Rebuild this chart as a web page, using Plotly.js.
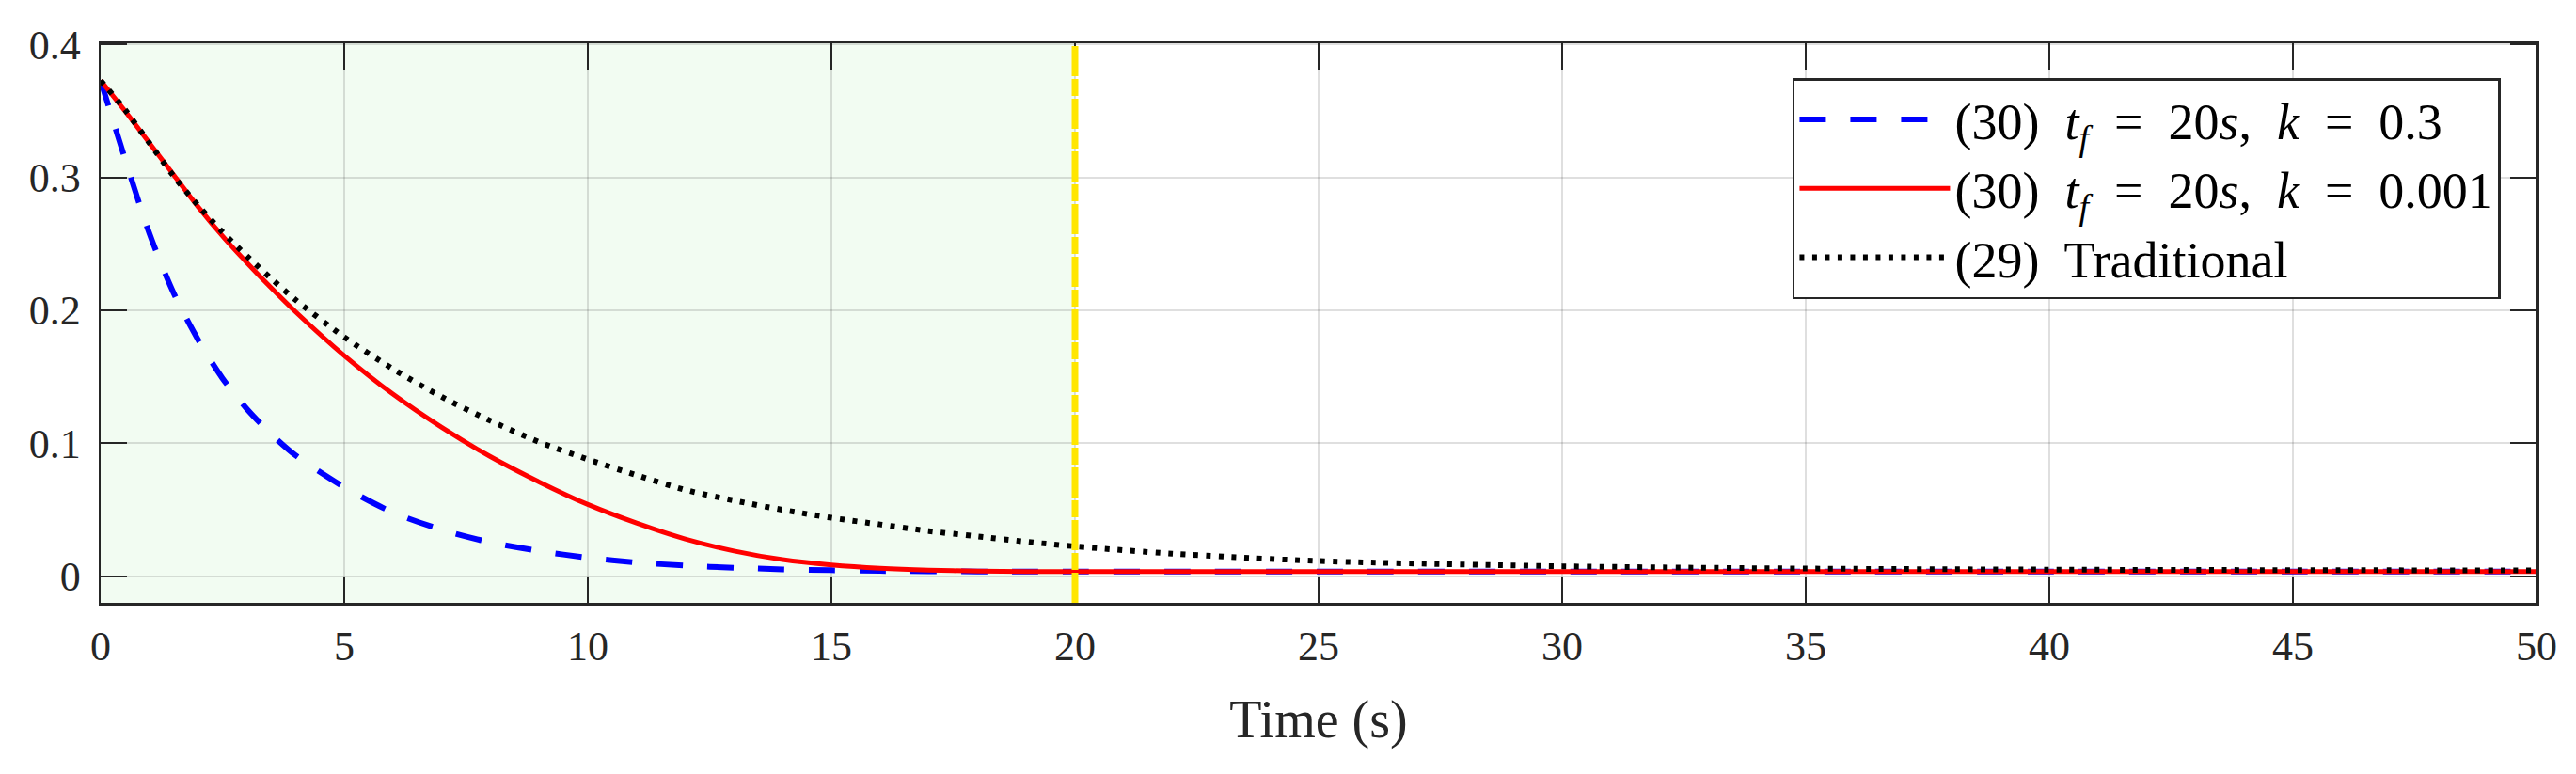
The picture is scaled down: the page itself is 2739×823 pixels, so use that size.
<!DOCTYPE html>
<html>
<head>
<meta charset="utf-8">
<script src="https://cdn.plot.ly/plotly-3.0.1.min.js"></script>
<style>
  html, body { margin: 0; padding: 0; background: white; }
  #chart { width: 2739px; height: 823px; }
</style>
</head>
<body>
<div id="chart"></div>
<script>
// time samples (s)
var timeS = [0, 0.5, 1, 1.5, 2, 2.5, 3, 3.5, 4, 5, 6, 7, 8, 9, 10, 11, 12, 13, 14, 15,
             16, 17, 18, 19, 20, 22, 25, 30, 35, 40, 45, 50];

// (30) tf = 20s, k = 0.3
var errK03 = [0.373, 0.314, 0.258, 0.213, 0.178, 0.149, 0.126, 0.107, 0.091, 0.067, 0.048, 0.035,
              0.0255, 0.019, 0.0140, 0.0104, 0.0080, 0.0064, 0.0052, 0.0045, 0.0040, 0.0037, 0.0036,
              0.0035, 0.0035, 0.0035, 0.0035, 0.0035, 0.0035, 0.0035, 0.0035, 0.0035];

// (30) tf = 20s, k = 0.001
var errK0001 = [0.373, 0.350, 0.326, 0.302, 0.278, 0.256, 0.236, 0.217, 0.199, 0.166, 0.137, 0.112,
                0.090, 0.071, 0.054, 0.040, 0.028, 0.019, 0.0125, 0.0085, 0.0060, 0.0046, 0.0039,
                0.0036, 0.0035, 0.0035, 0.0035, 0.0035, 0.0035, 0.0035, 0.0035, 0.0035];

// (29) traditional
var errTrad = [0.373, 0.351, 0.326, 0.301, 0.279, 0.259, 0.241, 0.224, 0.208, 0.180, 0.156, 0.135,
               0.117, 0.101, 0.088, 0.076, 0.065, 0.057, 0.050, 0.044, 0.039, 0.034, 0.030, 0.026,
               0.0225, 0.017, 0.0115, 0.0075, 0.0058, 0.0050, 0.0046, 0.0044];

var seriesNames = [
  '(30)&nbsp; <i>t<sub>f</sub></i>&nbsp; = &nbsp;20<i>s</i>,&nbsp; <i>k</i>&nbsp; = &nbsp;0.3',
  '(30)&nbsp; <i>t<sub>f</sub></i>&nbsp; = &nbsp;20<i>s</i>,&nbsp; <i>k</i>&nbsp; = &nbsp;0.001',
  '(29)&nbsp; Traditional'
];

var settleTime = 20;     // tf, end of the shaded region
var xTicks = [0, 5, 10, 15, 20, 25, 30, 35, 40, 45, 50];
var yTicks = [0, 0.1, 0.2, 0.3, 0.4];

var fontFam = '"Liberation Serif", "Times New Roman", serif';

var traceK03 = {
  x: timeS, y: errK03, mode: 'lines', name: seriesNames[0],
  line: {color: 'rgb(0,0,255)', width: 6, dash: '28px,26px', shape: 'spline', smoothing: 0.8}
};
var traceK0001 = {
  x: timeS, y: errK0001, mode: 'lines', name: seriesNames[1],
  line: {color: 'rgb(255,0,0)', width: 5, shape: 'spline', smoothing: 0.8}
};
var traceTrad = {
  x: timeS, y: errTrad, mode: 'lines', name: seriesNames[2],
  line: {color: 'black', width: 6, dash: '5px,8.5px', shape: 'spline', smoothing: 0.8}
};

var gridCol = 'rgba(38,38,38,0.15)';
var axisCol = '#262626';

var layout = {
  width: 2739,
  height: 823,
  margin: {l: 107, r: 42, t: 46, b: 182},
  paper_bgcolor: 'white',
  plot_bgcolor: 'white',
  font: {family: fontFam, color: axisCol},
  xaxis: {
    range: [0, 50],
    tickvals: xTicks,
    ticks: 'inside', ticklen: 28, tickwidth: 2, tickcolor: axisCol,
    showline: true, linecolor: axisCol, linewidth: 2.5, mirror: 'ticks',
    showgrid: true, gridcolor: gridCol, gridwidth: 2,
    zeroline: false,
    tickfont: {size: 44, family: fontFam, color: axisCol},
    ticklabelstandoff: 6,
    title: {text: 'Time (s)', font: {size: 56, family: fontFam, color: axisCol}, standoff: 34}
  },
  yaxis: {
    range: [-0.02, 0.401],
    tickvals: yTicks,
    ticks: 'inside', ticklen: 28, tickwidth: 2, tickcolor: axisCol,
    showline: true, linecolor: axisCol, linewidth: 2.5, mirror: 'ticks',
    showgrid: true, gridcolor: gridCol, gridwidth: 2,
    zeroline: false,
    tickfont: {size: 44, family: fontFam, color: axisCol},
    ticklabelstandoff: 10
  },
  legend: {
    x: 0.9853, xanchor: 'right',
    y: 0.9378, yanchor: 'top',
    bgcolor: 'white',
    bordercolor: axisCol,
    borderwidth: 2.5,
    itemwidth: 160,
    font: {size: 54, family: fontFam, color: 'black'},
    tracegroupgap: 0
  },
  shapes: [
    {
      type: 'rect', xref: 'x', yref: 'paper',
      x0: 0, x1: settleTime, y0: 0, y1: 1,
      fillcolor: 'rgb(242,252,242)', line: {width: 0}, layer: 'below'
    },
    {
      type: 'line', xref: 'x', yref: 'paper',
      x0: settleTime, x1: settleTime, y0: 0, y1: 1,
      line: {color: 'rgb(255,230,0)', width: 7, dash: '32px,3px,18px,3px'}, layer: 'above'
    }
  ],
  showlegend: true
};

Plotly.newPlot('chart', [traceK03, traceK0001, traceTrad], layout, {displayModeBar: false, staticPlot: true});
</script>
</body>
</html>
